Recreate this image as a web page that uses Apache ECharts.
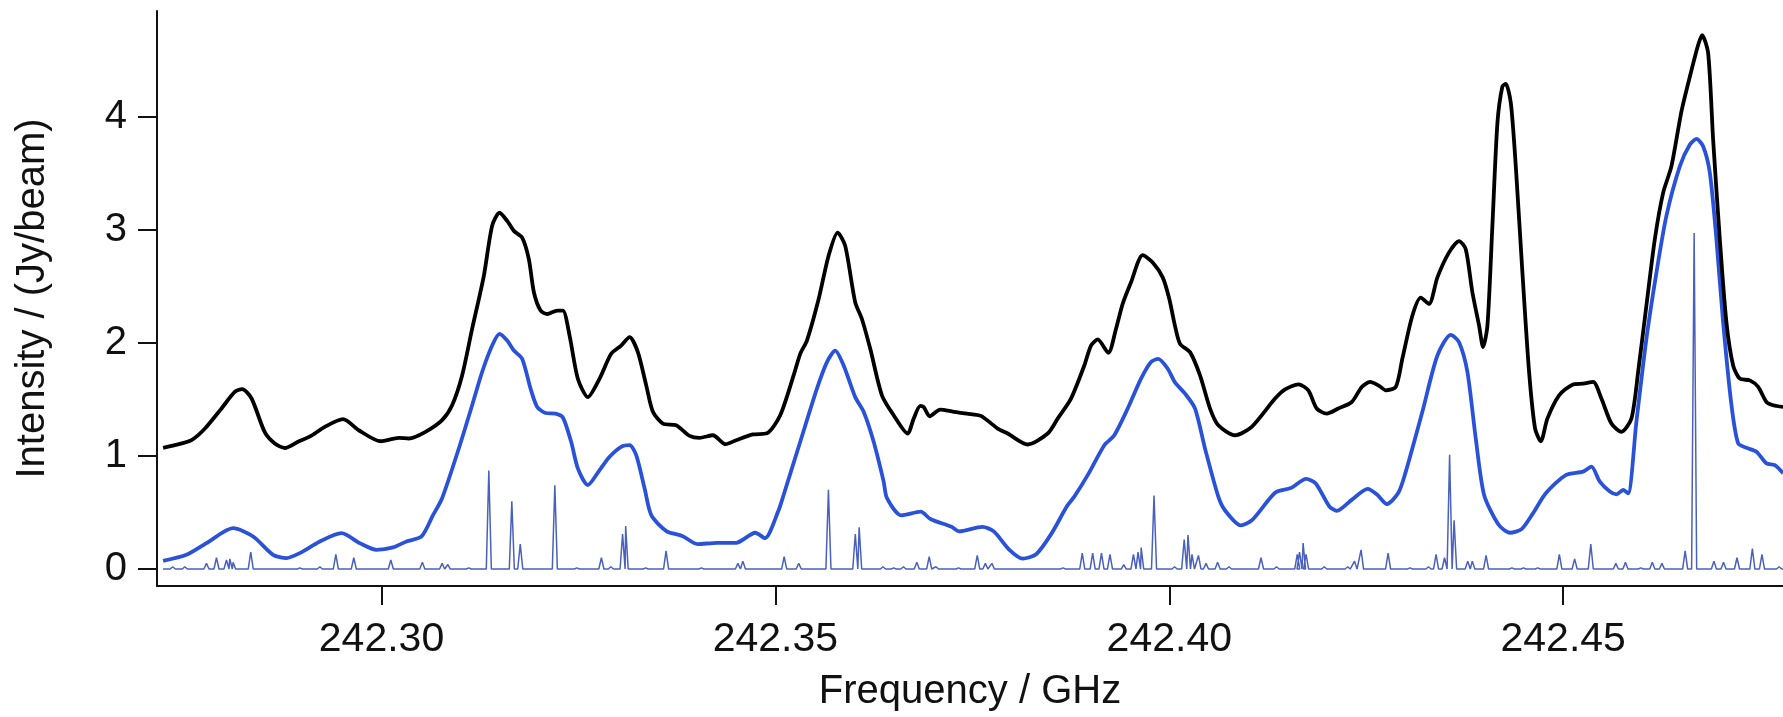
<!DOCTYPE html>
<html>
<head>
<meta charset="utf-8">
<script src="https://cdn.jsdelivr.net/npm/echarts@6/dist/echarts.min.js"></script>
<style>
html,body{margin:0;padding:0;background:#fff;}
#chart{width:1783px;height:717px;}
</style>
</head>
<body>
<div id="chart"></div>
<script>
// Observed spectrum (black)
const obsFreq = [242.27227,242.27376,242.27588,242.27756,242.27969,242.28137,242.28230,242.28349,242.28518,242.28645,242.28772,242.28941,242.29111,242.29280,242.29512,242.29712,242.29987,242.30220,242.30347,242.30559,242.30769,242.30896,242.31023,242.31150,242.31299,242.31404,242.31498,242.31595,242.31680,242.31785,242.31870,242.31934,242.32019,242.32103,242.32230,242.32302,242.32387,242.32492,242.32619,242.32768,242.32915,242.33042,242.33149,242.33254,242.33360,242.33445,242.33572,242.33740,242.33911,242.34038,242.34206,242.34368,242.34502,242.34714,242.34892,242.35061,242.35231,242.35315,242.35400,242.35549,242.35675,242.35790,242.35886,242.36013,242.36098,242.36204,242.36352,242.36501,242.36679,242.36755,242.36839,242.36882,242.36958,242.37092,242.37263,242.37432,242.37609,242.37821,242.37948,242.38202,242.38456,242.38583,242.38752,242.38921,242.39006,242.39091,242.39226,242.39323,242.39408,242.39514,242.39662,242.39789,242.39916,242.40000,242.40072,242.40136,242.40263,242.40390,242.40517,242.40622,242.40834,242.41046,242.41342,242.41469,242.41638,242.41765,242.41871,242.41998,242.42146,242.42316,242.42443,242.42548,242.42663,242.42748,242.42875,242.42958,242.43085,242.43192,242.43297,242.43403,242.43551,242.43678,242.43763,242.43847,242.43932,242.43983,242.44038,242.44101,242.44165,242.44228,242.44271,242.44335,242.44398,242.44482,242.44567,242.44643,242.44716,242.44799,242.44948,242.45117,242.45253,242.45380,242.45485,242.45612,242.45739,242.45866,242.45951,242.46056,242.46163,242.46269,242.46374,242.46501,242.46608,242.46713,242.46764,242.46840,242.46903,242.46988,242.47072,242.47157,242.47242,242.47369,242.47475,242.47580,242.47665,242.47792];
const obsInt = [1.072,1.095,1.14,1.24,1.42,1.566,1.59,1.51,1.21,1.11,1.07,1.125,1.18,1.257,1.325,1.227,1.13,1.16,1.154,1.213,1.316,1.448,1.712,2.123,2.593,3.034,3.15,3.078,2.99,2.93,2.74,2.447,2.285,2.255,2.285,2.285,2.064,1.683,1.52,1.683,1.903,1.976,2.05,1.918,1.624,1.39,1.286,1.271,1.178,1.16,1.183,1.104,1.139,1.19,1.2,1.36,1.712,1.903,2.02,2.388,2.77,2.975,2.857,2.358,2.211,1.947,1.536,1.36,1.198,1.33,1.442,1.433,1.351,1.41,1.39,1.374,1.354,1.242,1.198,1.101,1.198,1.33,1.507,1.8,1.976,2.03,1.912,2.123,2.344,2.535,2.775,2.711,2.579,2.388,2.15,1.991,1.918,1.712,1.419,1.271,1.183,1.257,1.507,1.589,1.633,1.58,1.419,1.374,1.419,1.477,1.61,1.654,1.62,1.58,1.61,1.859,2.24,2.4,2.344,2.579,2.8,2.9,2.828,2.447,2.152,1.962,2.152,3.034,3.944,4.267,4.29,4.12,3.562,2.623,1.742,1.242,1.13,1.33,1.536,1.63,1.639,1.654,1.507,1.286,1.213,1.33,1.742,2.329,2.916,3.328,3.562,4.047,4.355,4.634,4.72,4.56,3.797,2.916,2.18,1.8,1.683,1.668,1.61,1.477,1.448,1.433];

// Model spectrum (thick blue)
const modelFreq = [242.27227,242.27524,242.27778,242.28116,242.28370,242.28624,242.28794,242.28963,242.29217,242.29492,242.29724,242.29937,242.30147,242.30317,242.30508,242.30655,242.30769,242.30981,242.31150,242.31277,242.31404,242.31498,242.31595,242.31680,242.31785,242.31892,242.31976,242.32082,242.32209,242.32302,242.32407,242.32492,242.32619,242.32768,242.32895,242.33042,242.33149,242.33233,242.33339,242.33426,242.33621,242.33817,242.34012,242.34256,242.34501,242.34745,242.34867,242.35038,242.35104,242.35315,242.35527,242.35654,242.35759,242.35866,242.36013,242.36120,242.36247,242.36374,242.36416,242.36600,242.36845,242.36967,242.37235,242.37332,242.37626,242.37772,242.37967,242.38139,242.38310,242.38504,242.38700,242.38794,242.38964,242.39175,242.39302,242.39472,242.39641,242.39768,242.39860,242.39980,242.40072,242.40200,242.40327,242.40453,242.40622,242.40711,242.40907,242.41053,242.41346,242.41541,242.41737,242.41859,242.42030,242.42127,242.42322,242.42518,242.42640,242.42762,242.42909,242.43002,242.43212,242.43403,242.43573,242.43678,242.43784,242.43890,242.43996,242.44178,242.44325,242.44472,242.44618,242.44779,242.45033,242.45253,242.45358,242.45465,242.45592,242.45676,242.45761,242.45824,242.45929,242.46056,242.46184,242.46310,242.46481,242.46608,242.46691,242.46776,242.46861,242.46945,242.47030,242.47136,242.47221,242.47326,242.47453,242.47580,242.47687,242.47792];
const modelInt = [0.073,0.126,0.229,0.361,0.288,0.126,0.097,0.141,0.244,0.317,0.229,0.17,0.191,0.244,0.288,0.478,0.626,1.066,1.448,1.742,1.976,2.079,2.02,1.932,1.859,1.595,1.433,1.38,1.374,1.34,1.125,0.89,0.743,0.875,0.993,1.081,1.095,1.007,0.714,0.474,0.333,0.293,0.22,0.232,0.232,0.321,0.273,0.515,0.655,1.125,1.595,1.83,1.932,1.8,1.52,1.39,1.125,0.773,0.626,0.474,0.507,0.442,0.373,0.333,0.373,0.333,0.172,0.092,0.131,0.313,0.555,0.64,0.83,1.095,1.183,1.419,1.683,1.83,1.859,1.771,1.65,1.551,1.419,1.066,0.64,0.515,0.386,0.434,0.676,0.716,0.797,0.757,0.555,0.515,0.616,0.708,0.656,0.575,0.676,0.861,1.39,1.888,2.07,2.006,1.742,1.154,0.655,0.394,0.321,0.353,0.494,0.67,0.831,0.861,0.905,0.773,0.685,0.661,0.699,0.67,1.301,2.035,2.623,3.122,3.562,3.753,3.803,3.738,3.504,2.916,2.182,1.448,1.11,1.072,1.037,0.934,0.919,0.846];

// Narrow-line spectrum (thin blue): line centres and peak heights
const lineFreq = [242.27350,242.27503,242.27778,242.27905,242.28032,242.28074,242.28116,242.28340,242.28963,242.29217,242.29420,242.29648,242.30118,242.30518,242.30769,242.30842,242.31108,242.31362,242.31654,242.31761,242.32200,242.32480,242.32791,242.32911,242.33060,242.33099,242.33353,242.33612,242.34060,242.34524,242.34587,242.35111,242.35296,242.35673,242.36014,242.36063,242.36365,242.36502,242.36625,242.36795,242.36952,242.37038,242.37324,242.37562,242.37665,242.37748,242.38650,242.38895,242.39027,242.39139,242.39247,242.39422,242.39545,242.39603,242.39643,242.39806,242.40067,242.40189,242.40237,242.40288,242.40370,242.40466,242.40613,242.40758,242.41164,242.41361,242.41624,242.41653,242.41698,242.41736,242.41967,242.42264,242.42351,242.42434,242.42777,242.43056,242.43290,242.43386,242.43494,242.43558,242.43615,242.43788,242.43846,242.44021,242.44349,242.44496,242.44676,242.44951,242.45145,242.45350,242.45668,242.45790,242.45986,242.46131,242.46253,242.46548,242.46662,242.46913,242.47035,242.47206,242.47401,242.47523,242.47741];
const lineInt = [0.02,0.02,0.05,0.10,0.08,0.09,0.06,0.15,0.01,0.02,0.13,0.10,0.08,0.06,0.05,0.04,0.01,0.87,0.60,0.22,0.74,0.01,0.10,0.02,0.31,0.38,0.01,0.16,0.01,0.05,0.07,0.11,0.05,0.70,0.31,0.37,0.02,0.01,0.02,0.06,0.11,0.02,0.01,0.12,0.05,0.05,0.01,0.14,0.14,0.14,0.13,0.04,0.13,0.15,0.19,0.65,0.02,0.26,0.30,0.13,0.12,0.05,0.06,0.02,0.10,0.02,0.13,0.15,0.23,0.13,0.02,0.02,0.07,0.17,0.14,0.01,0.02,0.13,0.10,1.01,0.43,0.07,0.07,0.12,0.01,0.01,0.01,0.13,0.09,0.22,0.05,0.06,0.01,0.06,0.05,0.16,2.97,0.07,0.06,0.10,0.18,0.13,0.02];

const xTicks = [242.30, 242.35, 242.40, 242.45];
const yTicks = [0, 1, 2, 3, 4];

const zip = (a, b) => a.map((v, i) => [v, b[i]]);

// Build stick profile (narrow peaks on a zero baseline)
const HW = 0.00032;
const stickData = [[obsFreq[0], 0]];
lineFreq.forEach((f, i) => {
  stickData.push([f - HW, 0], [f, lineInt[i]], [f + HW, 0]);
});
stickData.push([obsFreq[obsFreq.length - 1], 0]);

const FONT = 'Liberation Sans, Arial, Helvetica, sans-serif';
const chart = echarts.init(document.getElementById('chart'), null, {renderer: 'canvas'});
chart.setOption({
  animation: false,
  backgroundColor: '#fff',
  grid: {left: 157, right: 0, top: 11, bottom: 129, containLabel: false},
  xAxis: {
    type: 'value',
    min: 242.2715,
    max: 242.4779,
    name: 'Frequency / GHz',
    nameLocation: 'middle',
    nameGap: 86,
    nameTextStyle: {fontFamily: FONT, fontSize: 40, color: '#111'},
    axisLine: {show: true, onZero: false, lineStyle: {color: '#111', width: 2}},
    axisTick: {show: true, inside: false, length: 19, lineStyle: {color: '#111', width: 2}, customValues: xTicks},
    axisLabel: {show: true, margin: 33, fontFamily: FONT, fontSize: 41, color: '#111', customValues: xTicks,
      formatter: v => Number(v).toFixed(2)},
    splitLine: {show: false}
  },
  yAxis: {
    type: 'value',
    min: -0.15,
    max: 4.934,
    name: 'Intensity / (Jy/beam)',
    nameLocation: 'middle',
    nameGap: 104,
    nameRotate: 90,
    nameTextStyle: {fontFamily: FONT, fontSize: 40, color: '#111'},
    axisLine: {show: true, onZero: false, lineStyle: {color: '#111', width: 2}},
    axisTick: {show: true, inside: false, length: 19, lineStyle: {color: '#111', width: 2}, customValues: yTicks},
    axisLabel: {show: true, margin: 30, fontFamily: FONT, fontSize: 40, color: '#111', customValues: yTicks,
      formatter: v => String(Math.round(v))},
    splitLine: {show: false}
  },
  series: [
    {
      name: 'lines', type: 'line', data: stickData, showSymbol: false, symbol: 'none',
      lineStyle: {color: '#4a60bd', width: 1.5}, z: 1
    },
    {
      name: 'model', type: 'line', data: zip(modelFreq, modelInt), showSymbol: false, symbol: 'none',
      smooth: 0.25, lineStyle: {color: '#2a52d8', width: 3.8}, z: 2
    },
    {
      name: 'observed', type: 'line', data: zip(obsFreq, obsInt), showSymbol: false, symbol: 'none',
      smooth: 0.25, lineStyle: {color: '#000', width: 3.8}, z: 3
    }
  ]
});
</script>
</body>
</html>
